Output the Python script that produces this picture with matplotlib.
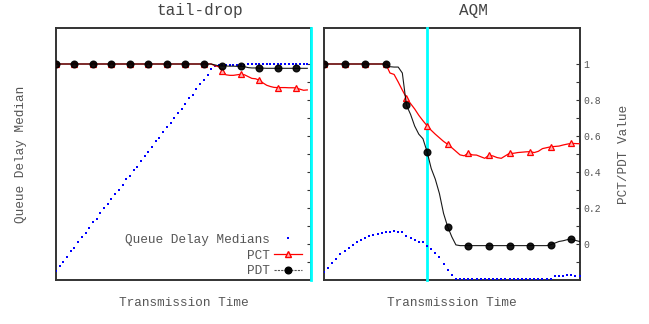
import numpy as np
import matplotlib
matplotlib.use("Agg")
import matplotlib.pyplot as plt
from matplotlib.lines import Line2D

plt.rcParams['font.family'] = ['Liberation Mono', 'DejaVu Sans Mono']

# tail-drop run: samples every 2 time units (x = 0 .. 136)
tdX = np.arange(0, 138, 2)
tdQueue = [-0.15, -0.12, -0.10, -0.07, -0.04, -0.02, 0.01, 0.04, 0.06, 0.09,
           0.12, 0.14, 0.17, 0.20, 0.22, 0.25, 0.28, 0.30, 0.33, 0.36,
           0.38, 0.41, 0.43, 0.46, 0.49, 0.51, 0.54, 0.57, 0.59, 0.62,
           0.65, 0.67, 0.70, 0.73, 0.75, 0.78, 0.81, 0.83, 0.86, 0.89,
           0.91, 0.94, 0.97, 0.99,
           0.995, 0.995, 0.995, 0.995, 0.995, 0.995, 0.995, 0.995,
           1.0, 1.0, 1.0, 1.0, 1.0, 1.0, 1.0, 1.0, 1.0, 1.0,
           1.0, 1.0, 1.0, 1.0, 1.0, 1.0, 1.0]
tdPCT = [1.0] * 43 + [0.99, 0.985, 0.96, 0.94, 0.937, 0.937, 0.94, 0.943, 0.94, 0.93,
                      0.92, 0.918, 0.91, 0.895, 0.882, 0.875, 0.87, 0.869, 0.869, 0.869,
                      0.868, 0.868, 0.867, 0.86, 0.854, 0.856]
tdPDT = [1.0] * 43 + [0.995, 0.99, 0.989, 0.989, 0.988, 0.988, 0.987, 0.987, 0.985, 0.98,
                      0.978, 0.978, 0.977, 0.977, 0.976, 0.976, 0.976, 0.976, 0.976, 0.976,
                      0.976, 0.976, 0.976, 0.976, 0.976, 0.976]
tdMark = 137.9

# AQM run: samples every 2 time units (x = 0 .. 124)
aqmX = np.arange(0, 126, 2)
aqmQueue = [-0.155, -0.135, -0.105, -0.081, -0.058, -0.037, -0.020, -0.006, 0.013, 0.025,
            0.031, 0.042, 0.048, 0.057, 0.061, 0.066, 0.066, 0.072, 0.066, 0.066,
            0.042, 0.031, 0.022, 0.013, 0.009, -0.009, -0.030, -0.050, -0.072, -0.109,
            -0.146, -0.170] + [-0.192] * 24 + [-0.179, -0.179, -0.176, -0.174, -0.172, -0.179, -0.177]
aqmPCT = [1.0] * 16 + [0.95, 0.942, 0.9, 0.855, 0.812, 0.78, 0.75, 0.715, 0.685, 0.657,
                       0.632, 0.61, 0.59, 0.57, 0.554, 0.535, 0.515, 0.495, 0.49, 0.504,
                       0.495, 0.494, 0.485, 0.476, 0.493, 0.489, 0.48, 0.476, 0.49, 0.504,
                       0.504, 0.508, 0.51, 0.512, 0.513, 0.508, 0.515, 0.53, 0.535, 0.54,
                       0.542, 0.544, 0.55, 0.555, 0.559, 0.558, 0.557]
aqmPDT = [1.0] * 16 + [0.985, 0.983, 0.983, 0.95, 0.771, 0.72, 0.655, 0.61, 0.585, 0.513,
                       0.42, 0.36, 0.28, 0.17, 0.096, 0.04, -0.005] + [-0.009] * 22 + \
         [-0.004, 0.005, 0.014, 0.018, 0.024, 0.028, 0.02, 0.014]
aqmMark = 50

majorTicks = [0, 0.2, 0.4, 0.6, 0.8, 1.0]
majorLabels = ["0", "0.2", "0.4", "0.6", "0.8", "1"]
minorTicks = [-0.1, 0.1, 0.3, 0.5, 0.7, 0.9]

textColor = "#555555"
spineColor = "#333333"

fig = plt.figure(figsize=(6.49, 3.24), dpi=100)
axL = fig.add_axes([56 / 649, 44 / 324, 255 / 649, 252 / 324])
axR = fig.add_axes([324 / 649, 44 / 324, 256 / 649, 252 / 324])


def draw_panel(ax, x, queue, pct, pdt, markX, xmax):
    ax.plot(x, queue, linestyle="none", marker="s", markersize=1.8, color="#0000ff",
            markeredgewidth=0, zorder=3)
    ax.plot(x, pct, color="#ff0000", linewidth=0.9, marker="^", markevery=5,
            markersize=5, markerfacecolor="#ffb0b0", markeredgecolor="#ff0000",
            markeredgewidth=0.9, zorder=4)
    ax.plot(x, pdt, color="black", linewidth=0.8, marker="o", markevery=5,
            markersize=4.8, markerfacecolor="black", alpha=0.9, zorder=5)
    # cursor line sits above the spine but under the data marks
    ax.axvline(markX, color="#00ffff", linewidth=2.0, zorder=2.6, clip_on=False)
    ax.set_xlim(0, xmax)
    ax.set_ylim(-0.2, 1.2)
    ax.set_xticks([])
    ax.yaxis.tick_right()
    ax.set_yticks(majorTicks)
    ax.set_yticks(minorTicks, minor=True)
    ax.tick_params(axis="y", which="both", direction="in", length=3, width=0.8,
                   color=spineColor, labelcolor=textColor, labelsize=7, pad=2.5)
    for s in ax.spines.values():
        s.set_color(spineColor)
        s.set_linewidth(1.4)


draw_panel(axL, tdX, tdQueue, tdPCT, tdPDT, tdMark, 138)
draw_panel(axR, aqmX, aqmQueue, aqmPCT, aqmPDT, aqmMark, 124.2)

axL.set_yticklabels([])
axR.set_yticklabels(majorLabels)
for lab in axR.get_yticklabels():
    lab.set_horizontalalignment("left")

axL.set_xlabel("Transmission Time", color=textColor, fontsize=9.2, labelpad=12)
axR.set_xlabel("Transmission Time", color=textColor, fontsize=9.2, labelpad=12)
axL.set_ylabel("Queue Delay Median", color=textColor, fontsize=9.2, labelpad=21)
axR.yaxis.set_label_position("right")
axR.set_ylabel("PCT/PDT Value", color=textColor, fontsize=9.2, labelpad=12)

fig.text(200 / 649, 1 - 10 / 324, "tail-drop", ha="center", va="center",
         color="#444444", fontsize=11.5)
fig.text(473 / 649, 1 - 10 / 324, "AQM", ha="center", va="center",
         color="#444444", fontsize=11.5)

handles = [
    Line2D([], [], linestyle="none", marker="s", markersize=1.8, color="#0000ff",
           markeredgewidth=0),
    Line2D([], [], color="#ff0000", linewidth=0.9, marker="^", markersize=5,
           markerfacecolor="#ffb0b0", markeredgecolor="#ff0000"),
    Line2D([], [], color="#555555", linewidth=0.8, linestyle=(0, (2, 1)), marker="o",
           markersize=4.8, markerfacecolor="black", markeredgecolor="black"),
]
leg = axL.legend(handles, ["Queue Delay Medians", "PCT", "PDT"], loc="lower right",
                 markerfirst=False, frameon=False, fontsize=9.2, handlelength=2.2,
                 handletextpad=0.3, labelspacing=0.3, borderaxespad=0.0,
                 bbox_to_anchor=(0.985, -0.01))
for t in leg.get_texts():
    t.set_color(textColor)

fig.savefig("out.png", dpi=100)
